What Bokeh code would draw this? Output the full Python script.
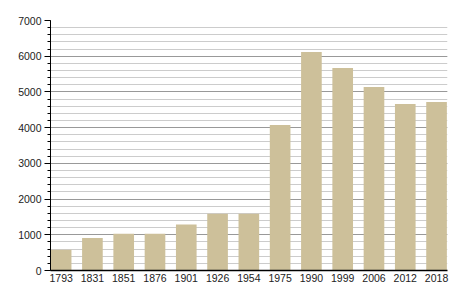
from bokeh.plotting import figure
from bokeh.models import FixedTicker, ColumnDataSource, Range1d
from bokeh.embed import file_html
from bokeh.resources import INLINE

years = ["1793", "1831", "1851", "1876", "1901", "1926", "1954", "1975", "1990", "1999", "2006", "2012", "2018"]
population = [580, 910, 1030, 1030, 1285, 1590, 1590, 4075, 6120, 5670, 5140, 4665, 4720]

xs = list(range(len(years)))
src = ColumnDataSource(data=dict(x=xs, top=population))

p = figure(width=455, height=300, output_backend="svg", toolbar_location=None,
           x_range=Range1d(-0.34, len(years) - 1 + 0.35), y_range=Range1d(0, 7000),
           min_border_left=50, min_border_right=8, min_border_top=20, min_border_bottom=30)
p.outline_line_color = None
p.background_fill_color = "white"
p.border_fill_color = "white"

p.vbar(x="x", top="top", width=0.66, bottom=0, source=src,
       fill_color="#cdc09a", line_color=None)

# y axis
p.yaxis.ticker = FixedTicker(ticks=list(range(0, 7001, 1000)),
                             minor_ticks=list(range(0, 7001, 200)))
p.yaxis.major_tick_out = 6
p.yaxis.major_tick_in = 0
p.yaxis.minor_tick_out = 3
p.yaxis.minor_tick_in = 0
p.yaxis.axis_line_color = "black"
p.yaxis.major_tick_line_color = "black"
p.yaxis.minor_tick_line_color = "black"
p.yaxis.major_label_text_font = "Liberation Sans"
p.yaxis.major_label_text_font_size = "10.5px"
p.yaxis.major_label_text_color = "#222222"
p.yaxis.major_label_standoff = 3

# x axis
p.xaxis.ticker = FixedTicker(ticks=xs)
p.xaxis.major_label_overrides = {i: y for i, y in enumerate(years)}
p.xaxis.major_tick_out = 0
p.xaxis.major_tick_in = 0
p.xaxis.minor_tick_line_color = None
p.xaxis.axis_line_color = "black"
p.xaxis.axis_line_width = 1.5
p.xaxis.major_label_text_font = "Liberation Sans"
p.xaxis.major_label_text_font_size = "10.5px"
p.xaxis.major_label_text_color = "#222222"
p.xaxis.major_label_standoff = 3

# grids
p.xgrid.grid_line_color = None
p.ygrid.grid_line_color = "#999999"
p.ygrid.minor_grid_line_color = "#cccccc"
p.ygrid.grid_line_width = 1
p.ygrid.minor_grid_line_width = 1

open("out.html", "w").write(file_html(p, INLINE))
